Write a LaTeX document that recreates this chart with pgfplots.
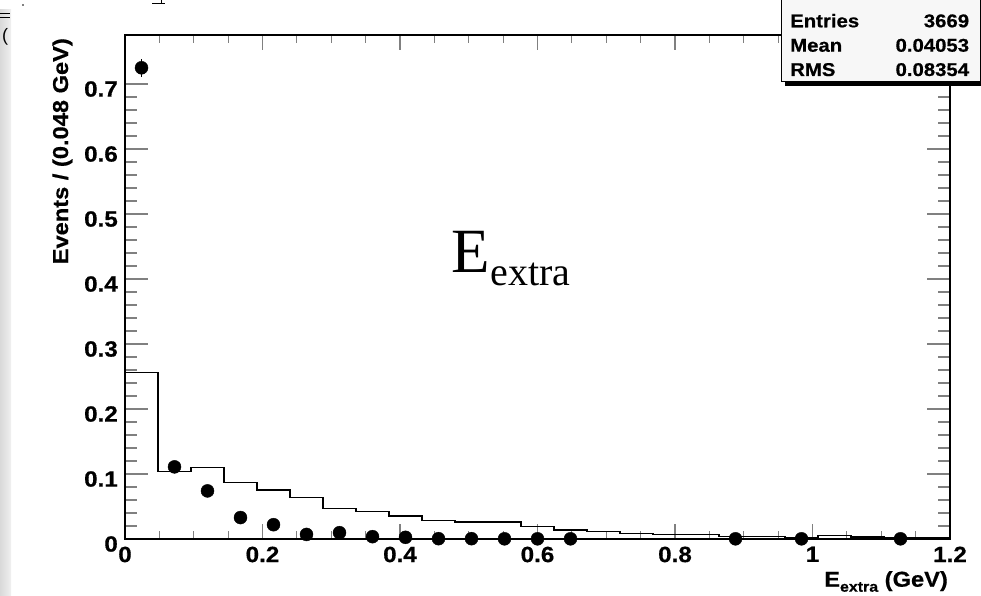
\documentclass[border=0pt]{standalone}
\usepackage{pgfplots}
\pgfplotsset{compat=1.18}
\usepackage{fontspec}
\setmainfont{Liberation Sans}
\newfontfamily\rootfont{Liberation Sans}[FakeStretch=1.1, BoldFeatures={FakeBold=0.6}]
\newfontfamily\serifbig{Liberation Serif}
\pgfplotsset{
  rootaxis/.style={
    at={(125pt,57pt)}, anchor=south west,
    scale only axis, width=825pt, height=504pt,
    xmin=0, xmax=1.2, ymin=0, ymax=0.7754,
    clip=false,
    axis line style={line width=1.5pt},
    tick align=inside,
    tick style={line width=1.2pt},
    xtick={0,0.2,0.4,0.6,0.8,1,1.2},
    ytick={0,0.1,0.2,0.3,0.4,0.5,0.6,0.7},
    minor x tick num=3, minor y tick num=4,
    /pgf/number format/assume math mode=true,
    /pgf/number format/fixed,
    ticklabel style={font=\rootfont\bfseries\fontsize{22}{25}\selectfont},
    yticklabel style={anchor=east, inner sep=0pt, xshift=-7pt, yshift=-5pt},
    xticklabel style={anchor=north, inner sep=0pt, yshift=-7.5pt},
  }
}
\begin{document}
\begin{tikzpicture}[x=1pt,y=1pt]
\path[use as bounding box] (0,0) rectangle (981,596);
\fill[white] (0,0) rectangle (981,596);
% left gray strip (slide background remnant)
\shade[left color=gray!30, right color=gray!12] (0,0) rectangle (11,586);
\draw[line width=0.8pt] (0,583) -- (10,583);
\draw[line width=0.8pt] (0,579) -- (10,579);
\node[anchor=west, inner sep=0pt, font=\fontsize{18}{20}\selectfont] at (2,559) {(};
\draw[line width=0.8pt] (152,592.7) -- (165,592.7);
\draw[line width=0.8pt] (161.7,592.7) -- (161.7,596);
\fill (23,591) circle (0.8);

% x ticks only
\begin{axis}[rootaxis, ytick=\empty, minor ytick={}, minor y tick num=0,
  major tick length=15pt, minor tick length=8pt]
\end{axis}

% y ticks and data
\begin{axis}[rootaxis, xticklabels={}, xtick=\empty, minor x tick num=0,
  major tick length=23pt, minor tick length=12pt]
% histogram (bin width 0.048 GeV)
\addplot[const plot, black, line width=1.3pt] coordinates {
(0.000,0.256) (0.048,0.1035) (0.096,0.110) (0.144,0.087) (0.192,0.0754)
(0.240,0.064) (0.288,0.0467) (0.336,0.0426) (0.384,0.0354) (0.432,0.028)
(0.480,0.0260) (0.528,0.0262) (0.576,0.019) (0.624,0.014) (0.672,0.011)
(0.720,0.0087) (0.768,0.007) (0.816,0.0065) (0.864,0.004) (0.912,0.0035)
(0.960,0.0015) (1.008,0.005) (1.056,0.003) (1.104,0.0025) (1.152,0.0025)
(1.200,0.0025)
};
% data points
\addplot[only marks, mark=*, mark size=6.5pt, black,
  error bars/.cd, y dir=both, y explicit, error mark=none,
  error bar style={line width=1.3pt}] coordinates {
(0.024,0.725) +- (0,0.014)
(0.072,0.111) +- (0,0.0055)
(0.120,0.074) +- (0,0.0045)
(0.168,0.033) +- (0,0.003)
(0.216,0.022) +- (0,0.0025)
(0.264,0.007) +- (0,0.0014)
(0.312,0.0097) +- (0,0.0016)
(0.360,0.0036) +- (0,0.001)
(0.408,0.0026) +- (0,0.0008)
(0.456,0.0005) +- (0,0.0004)
(0.504,0.0005) +- (0,0.0004)
(0.552,0.0003) +- (0,0.0003)
(0.600,0.0003) +- (0,0.0003)
(0.648,0.0003) +- (0,0.0003)
(0.888,0.0003) +- (0,0.0003)
(0.984,0.0003) +- (0,0.0003)
(1.128,0.0003) +- (0,0.0003)
};
\end{axis}

% axis titles
\node[anchor=base east, inner sep=0pt, font=\rootfont\bfseries\fontsize{21.5}{24}\selectfont] at (948,9.3)
  {E\raisebox{-5pt}{\fontsize{14.5}{16}\selectfont extra} (GeV)};
\node[rotate=90, anchor=base east, inner sep=0pt, font=\rootfont\bfseries\fontsize{21.5}{24}\selectfont] at (68,558)
  {Events / (0.048 GeV)};

% big label
\node[anchor=base west, inner sep=0pt] at (451.7,323)
  {\serifbig\fontsize{63}{70}\selectfont E\fontsize{40}{44}\selectfont\raisebox{-13pt}{extra}};

% stats box
\fill[black] (785,510) rectangle (984,600);
\filldraw[fill=gray!6, draw=black, line width=1pt] (781.7,514.3) rectangle (980.5,600);
\begin{scope}[every node/.style={inner sep=0pt, font=\rootfont\bfseries\fontsize{18.5}{20}\selectfont}]
\node[anchor=base west] at (790,568.7) {Entries};
\node[anchor=base west] at (790,544.3) {Mean};
\node[anchor=base west] at (790,520) {RMS};
\node[anchor=base east] at (969.3,568.7) {3669};
\node[anchor=base east] at (969.3,544.3) {0.04053};
\node[anchor=base east] at (969.3,520) {0.08354};
\end{scope}
\end{tikzpicture}
\end{document}
